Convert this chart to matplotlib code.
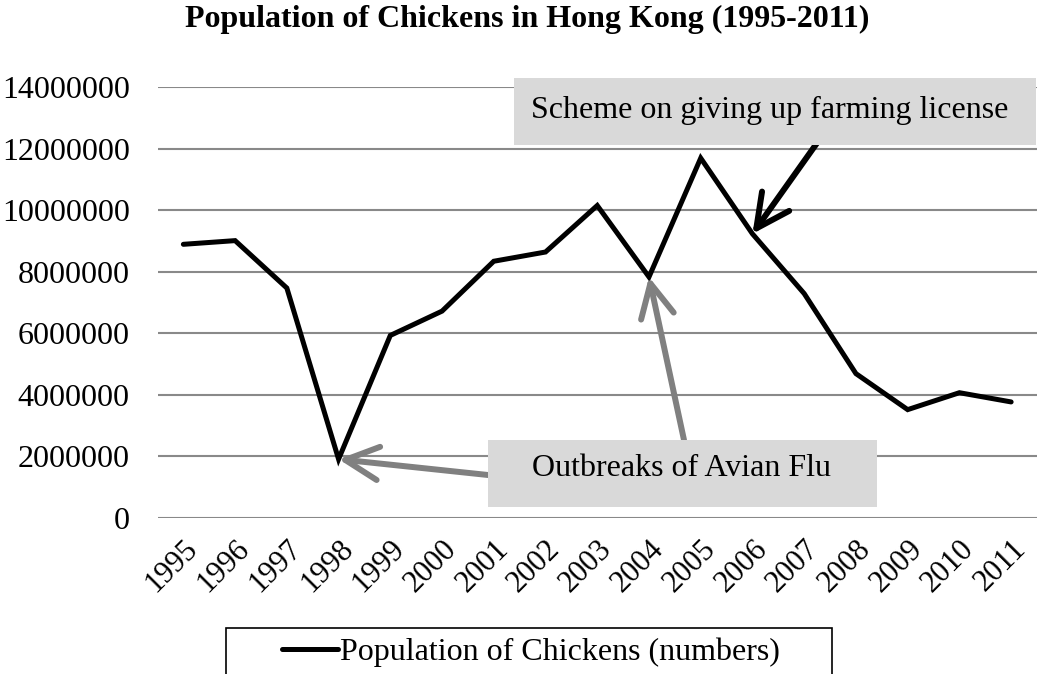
import numpy as np
import matplotlib.pyplot as plt
from matplotlib.patches import Rectangle
from matplotlib.transforms import ScaledTranslation

years = ["1995", "1996", "1997", "1998", "1999", "2000", "2001", "2002", "2003",
         "2004", "2005", "2006", "2007", "2008", "2009", "2010", "2011"]
chickens = [8890000, 9010000, 7470000, 1910000, 5930000, 6720000, 8340000,
            8640000, 10150000, 7830000, 11690000, 9230000, 7290000, 4690000,
            3520000, 4070000, 3770000]
y_ticks = [0, 2000000, 4000000, 6000000, 8000000, 10000000, 12000000, 14000000]

title = "Population of Chickens in Hong Kong (1995-2011)"
series_name = "Population of Chickens (numbers)"
flu_note = "Outbreaks of Avian Flu"
scheme_note = "Scheme on giving up farming license"

plt.rcParams["font.family"] = ["Liberation Serif", "DejaVu Serif"]

W, H = 1051, 674
fig = plt.figure(figsize=(W / 100, H / 100), dpi=100)
ax = fig.add_axes([157.5 / W, 1 - 518 / H, (1037 - 157.5) / W, (518 - 87) / H])

x = np.arange(len(years))
line, = ax.plot(x, chickens, color="black", lw=3.6, solid_joinstyle="miter",
                solid_capstyle="round", zorder=3)

ax.set_xlim(-0.5, len(years) - 0.5)
ax.set_ylim(0, 14000000)
ax.set_yticks(y_ticks)
ax.set_yticklabels([str(v) for v in y_ticks], fontsize=23)
ax.set_xticks(x)
ax.set_xticklabels(years, fontsize=22, rotation=45, ha="right", va="top",
                   rotation_mode="anchor")
shift = ScaledTranslation(-6 / 100, -6 / 100, fig.dpi_scale_trans)
for lab in ax.get_xticklabels():
    lab.set_transform(lab.get_transform() + shift)
ax.tick_params(axis="y", length=0, pad=20)
ax.tick_params(axis="x", length=0, pad=12)
for s in ax.spines.values():
    s.set_visible(False)
ax.grid(axis="y", color="#898989", lw=1.5)
ax.set_axisbelow(True)

fig.text(527 / W, 1 - 19 / H, title, ha="center", va="center", fontsize=23,
         fontweight="bold")

# note boxes
def px(xp, yp):
    return (xp, H - yp)

fig.patches.append(Rectangle(px(488, 507), 389, 67, transform=None,
                             facecolor="#d9d9d9", edgecolor="none", zorder=4))
fig.text(681 / W, 1 - 469 / H, flu_note, ha="center", va="center",
         fontsize=23, zorder=5)
fig.patches.append(Rectangle(px(514, 145), 522, 67, transform=None,
                             facecolor="#d9d9d9", edgecolor="none", zorder=4))
fig.text(770 / W, 1 - 110 / H, scheme_note, ha="center", va="center",
         fontsize=23, zorder=5)

grey_arrow = dict(arrowstyle="->, head_length=1.2, head_width=0.6",
                  color="#808080", lw=4.3, mutation_scale=20,
                  capstyle="round", shrinkA=0, shrinkB=0)
black_arrow = dict(grey_arrow, color="black")

ax.annotate("", xy=(3, chickens[3]), xytext=px(488, 475),
            textcoords="figure pixels", arrowprops=grey_arrow, zorder=3)
ax.annotate("", xy=(9, chickens[9]), xytext=px(684, 440),
            textcoords="figure pixels", arrowprops=grey_arrow, zorder=3)
ax.annotate("", xy=(11, chickens[11]), xytext=px(817, 143),
            textcoords="figure pixels", arrowprops=black_arrow, zorder=3)

# legend with a wide frame drawn by hand
leg = fig.legend([line], [series_name], loc="center", frameon=False,
                 bbox_to_anchor=(531 / W, 1 - 652 / H), fontsize=23,
                 handlelength=1.75, handletextpad=0.05)
fig.patches.append(Rectangle(px(226, 690), 606, 62, transform=None,
                             facecolor="none", edgecolor="black", lw=1.2))

fig.savefig("out.png", dpi=100)
